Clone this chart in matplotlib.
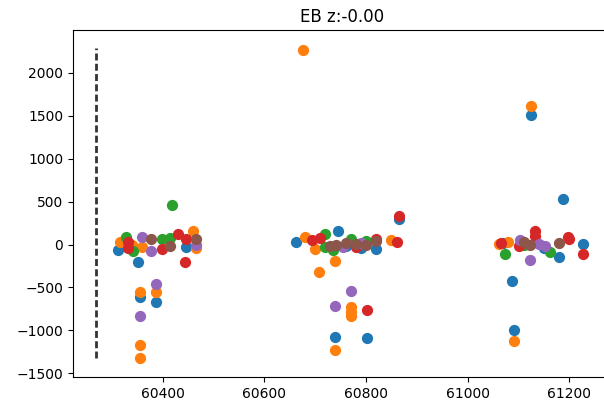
import numpy as np
import matplotlib
matplotlib.use("Agg")
import matplotlib.pyplot as plt

# points per colour (time, value)
blue_x = [60313, 60352, 60355, 60388, 60447,
          60663, 60745, 60739, 60801, 60865, 60790, 60820, 60760,
          61124, 61187, 61088, 61091, 61227, 61180, 61070, 61150]
blue_y = [-62, -206, -607, -673, -31,
          27, 163, -1081, -1089, 300, -40, -50, -20,
          1505, 533, -428, -995, 8, -148, 20, -40]

orange_x = [60316, 60359, 60355, 60388, 60355, 60355, 60459, 60466, 60340,
            60676, 60680, 60700, 60739, 60708, 60770, 60770, 60770, 60739, 60850,
            61124, 61062, 61091, 61080]
orange_y = [27, -31, -556, -556, -1167, -1322, 163, -40, 0,
            2264, 85, -50, -187, -323, -731, -790, -828, -1229, 50,
            1610, 8, -1128, 30]

green_x = [60418, 60329, 60342, 60398, 60414,
           60719, 60719, 60735, 60770, 60800,
           61073, 61162, 61110]
green_y = [455, 85, -70, 66, 70,
           125, -30, -60, 60, 40,
           -108, -90, 0]

red_x = [60444, 60331, 60331, 60398, 60431, 60447,
         60865, 60801, 60693, 60860, 60820, 60710, 60780,
         61066, 61132, 61132, 61198, 61200, 61227, 61100]
red_y = [-206, 27, -40, -55, 125, 66,
         327, -759, 47, 27, 60, 80, -30,
         20, 163, 100, 85, 60, -109, -20]

purple_x = [60359, 60378, 60388, 60355, 60466,
            60770, 60739, 60755, 60790,
            61103, 61123, 61152, 61140]
purple_y = [85, -70, -459, -836, 0,
            -545, -712, -30, 20,
            47, -178, -20, 10]

brown_x = [60378, 60414, 60466,
           60740, 60760, 60780, 60800, 60820, 60730,
           61123, 61180, 61110]
brown_y = [66, -15, 66,
           0, 20, 10, -10, 40, -20,
           0, 20, 30]

t_mark = 60269
title = "EB z:-0.00"

series = [(blue_x, blue_y), (orange_x, orange_y), (green_x, green_y),
          (red_x, red_y), (purple_x, purple_y), (brown_x, brown_y)]

fig = plt.figure(figsize=(6.04, 4.09), dpi=100)
ax = fig.add_axes([0.121, 0.078, 0.89, 0.849])

for x, y in series:
    ax.scatter(x, y, s=50)

all_y = np.concatenate([y for _, y in series])
ax.vlines(t_mark, all_y.min(), all_y.max() + 20, colors="#333333",
          linestyles=(0, (2.5, 1.2)), linewidth=2)

ax.set_xlim(60224, 61281)
ax.set_ylim(-1543, 2498)
ax.set_xticks([60400, 60600, 60800, 61000, 61200])
ax.set_title(title)

fig.savefig("out.png", dpi=100)
